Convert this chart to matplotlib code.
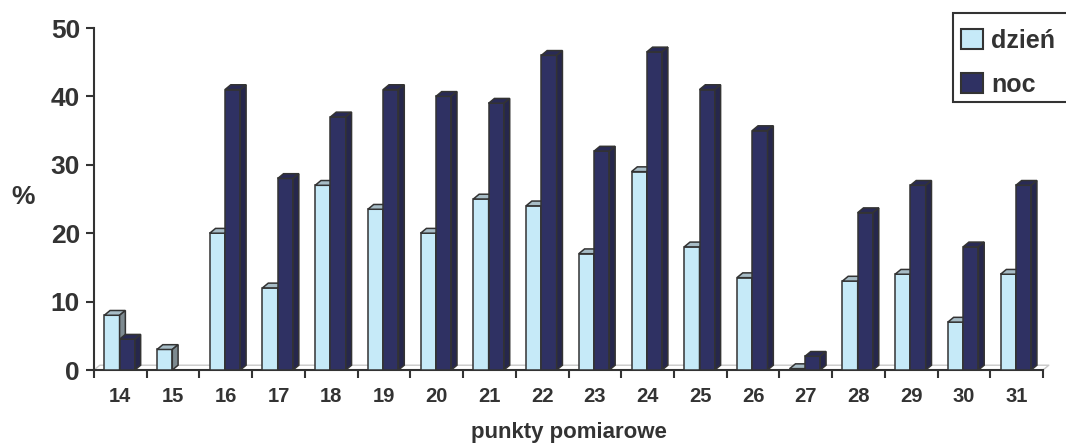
import matplotlib.pyplot as plt
from matplotlib.patches import Polygon, Rectangle

plt.rcParams['font.family'] = ['Liberation Sans', 'DejaVu Sans']
plt.rcParams['font.weight'] = 'bold'

punkty = ['14', '15', '16', '17', '18', '19', '20', '21', '22',
          '23', '24', '25', '26', '27', '28', '29', '30', '31']
dzien = [8, 3, 20, 12, 27, 23.5, 20, 25, 24, 17, 29, 18, 13.5, 0.2, 13, 14, 7, 14]
noc = [4.5, 0, 41, 28, 37, 41, 40, 39, 46, 32, 46.5, 41, 35, 2, 23, 27, 18, 27]

txt = '#333333'
edge = '#333333'
szer = 0.29
dx, dy = 0.11, 0.7   # glebokosc slupka (przesuniecie scianki bocznej)

fig = plt.figure(figsize=(10.66, 4.46), dpi=100)
ax = fig.add_axes([94 / 1066, 1 - 370 / 446, (1043 - 94) / 1066, (370 - 28) / 446])


def slupek(x0, h, front, top, side, z):
    if h <= 0:
        return
    ax.bar(x0, h, szer, align='edge', color=front, edgecolor=edge,
           linewidth=1.1, zorder=z)
    gora = [(x0, h), (x0 + dx, h + dy), (x0 + szer + dx, h + dy), (x0 + szer, h)]
    bok = [(x0 + szer, 0), (x0 + szer, h), (x0 + szer + dx, h + dy), (x0 + szer + dx, dy)]
    ax.add_patch(Polygon(gora, closed=True, facecolor=top, edgecolor=edge,
                         linewidth=1.1, zorder=z))
    ax.add_patch(Polygon(bok, closed=True, facecolor=side, edgecolor=edge,
                         linewidth=1.1, zorder=z))


for i in range(len(punkty)):
    slupek(i + 0.195, dzien[i], '#c6eaf8', '#a7bcc6', '#7d8a90', 3 + 2 * i)
    slupek(i + 0.485, noc[i], '#2f3163', '#292a55', '#26274c', 4 + 2 * i)

# podloga wykresu 3D
n = len(punkty)
ax.plot([0, dx, n + dx, n], [0, dy, dy, 0], color='#c8c8c8', linewidth=1.0,
        zorder=1, clip_on=False)

ax.set_xlim(0, n)
ax.set_ylim(0, 50)
ax.set_yticks(range(0, 51, 10))
ax.tick_params(axis='y', labelsize=19, colors=txt, length=6, width=1.5, pad=4)
ax.set_xticks([i + 0.5 for i in range(n)])
ax.set_xticklabels(punkty)
ax.set_xticks(range(n + 1), minor=True)
ax.tick_params(axis='x', which='major', length=0, labelsize=14.5, colors=txt, pad=12)
ax.tick_params(axis='x', which='minor', length=6, width=1.5, colors=edge)

for s in ['top', 'right']:
    ax.spines[s].set_visible(False)
for s in ['left', 'bottom']:
    ax.spines[s].set_color(edge)
    ax.spines[s].set_linewidth(1.5)

ax.set_xlabel('punkty pomiarowe', fontsize=16, fontweight='bold', color=txt, labelpad=12)
ax.set_ylabel('%', fontsize=19, fontweight='bold', color=txt, rotation=0, va='center')
ax.yaxis.set_label_coords(-71 / 949, 0.505)

# ramka legendy wychodzi poza prawa krawedz rysunku
fig.patches.append(Rectangle((953 / 1066, 1 - 102 / 446), 130 / 1066, 89 / 446,
                             transform=fig.transFigure, facecolor='white',
                             edgecolor=edge, linewidth=1.5, zorder=5))

uchwyty = [Rectangle((0, 0), 1, 1, facecolor='#c6eaf8', edgecolor=edge, linewidth=1.5),
           Rectangle((0, 0), 1, 1, facecolor='#2f3163', edgecolor=edge, linewidth=1.5)]
leg = fig.legend(uchwyty, ['dzień', 'noc'], loc='upper left',
                 bbox_to_anchor=(959 / 1066, 1 - 26 / 446), fontsize=18,
                 frameon=False, handlelength=0.85, handleheight=0.85,
                 handletextpad=0.35, labelspacing=0.8, borderpad=0.1,
                 borderaxespad=0)
leg.set_zorder(6)
for t in leg.get_texts():
    t.set_color(txt)

fig.savefig('out.png', dpi=100)
